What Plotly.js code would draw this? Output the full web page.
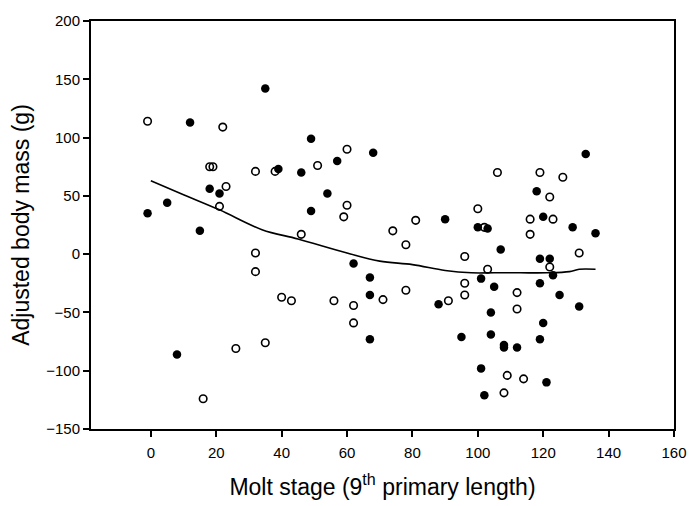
<!DOCTYPE html>
<html>
<head>
<meta charset="utf-8">
<script src="https://cdn.plot.ly/plotly-3.0.1.min.js"></script>
<style>html,body{margin:0;padding:0;background:#fff;}#chart{width:695px;height:506px;}</style>
</head>
<body>
<div id="chart"></div>
<script>
// Filled-circle group
const filledX = [35, 12, 49, 68, 57, 39, 46, 18, 21, 54, 5, -1, 49, 15, 62, 67, 67, 67, 8,
  133, 118, 90, 100, 103, 120, 129, 136, 107, 119, 122, 123, 101, 119, 105, 125, 88, 131, 104, 120, 95, 104, 119, 108, 108, 112, 101, 121, 102];
const filledY = [142, 113, 99, 87, 80, 73, 70, 56, 52, 52, 44, 35, 37, 20, -8, -20, -35, -73, -86,
  86, 54, 30, 23, 22, 32, 23, 18, 4, -4, -4, -18, -21, -25, -28, -35, -43, -45, -50, -59, -71, -69, -73, -78, -80, -80, -98, -110, -121];
// Open-circle group
const openX = [-1, 22, 60, 51, 18, 19, 32, 38, 23, 21, 60, 59, 46, 32, 32, 40, 43, 56, 62, 71, 62, 35, 26, 16,
  106, 119, 126, 122, 100, 81, 74, 102, 116, 123, 116, 78, 96, 131, 103, 122, 96, 112, 96, 78, 91, 112, 109, 114, 108];
const openY = [114, 109, 90, 76, 75, 75, 71, 71, 58, 41, 42, 32, 17, 1, -15, -37, -40, -40, -44, -39, -59, -76, -81, -124,
  70, 70, 66, 49, 39, 29, 20, 23, 30, 30, 17, 8, -2, 1, -13, -11, -25, -33, -35, -31, -40, -47, -104, -107, -119];
// Fitted curve
const fitX = [0, 10, 21, 34, 45, 60, 70, 80, 90, 98, 105, 113, 121, 128, 131, 136];
const fitY = [63, 51, 38, 21, 13, 1, -6, -9, -14, -16, -16, -16, -16, -15, -13, -13];

const fam = 'Liberation Sans, Arial, sans-serif';
const data = [
  {x: fitX, y: fitY, type: 'scatter', mode: 'lines', line: {color: '#000', width: 1.6, shape: 'spline'}, hoverinfo: 'skip'},
  {x: filledX, y: filledY, type: 'scatter', mode: 'markers', marker: {symbol: 'circle', size: 8.5, color: '#000', line: {width: 0}}},
  {x: openX, y: openY, type: 'scatter', mode: 'markers', marker: {symbol: 'circle-open', size: 7.5, color: '#000', line: {width: 1.6, color: '#000'}}}
];

const axisFont = {family: fam, size: 15, color: '#000'};
const layout = {
  width: 695, height: 506,
  margin: {l: 91, r: 21, t: 21, b: 77},
  paper_bgcolor: '#fff', plot_bgcolor: '#fff',
  showlegend: false,
  xaxis: {
    range: [-18.3, 160], tick0: 0, dtick: 20, ticks: 'outside', ticklen: 6, tickwidth: 2, tickcolor: '#000',
    showline: true, linewidth: 2, linecolor: '#000', mirror: true, showgrid: false, zeroline: false,
    tickfont: axisFont, ticklabelstandoff: 3,
    title: {text: 'Molt stage (9<sup>th</sup> primary length)', font: {family: fam, size: 23, color: '#000'}, standoff: 19}
  },
  yaxis: {
    range: [-150, 200], tick0: 0, dtick: 50, ticks: 'outside', ticklen: 6, tickwidth: 2, tickcolor: '#000',
    showline: true, linewidth: 2, linecolor: '#000', mirror: true, showgrid: false, zeroline: false,
    tickfont: axisFont,
    title: {text: 'Adjusted body mass (g)', font: {family: fam, size: 23, color: '#000'}, standoff: 10}
  }
};
Plotly.newPlot('chart', data, layout, {staticPlot: true, displayModeBar: false});
</script>
</body>
</html>
